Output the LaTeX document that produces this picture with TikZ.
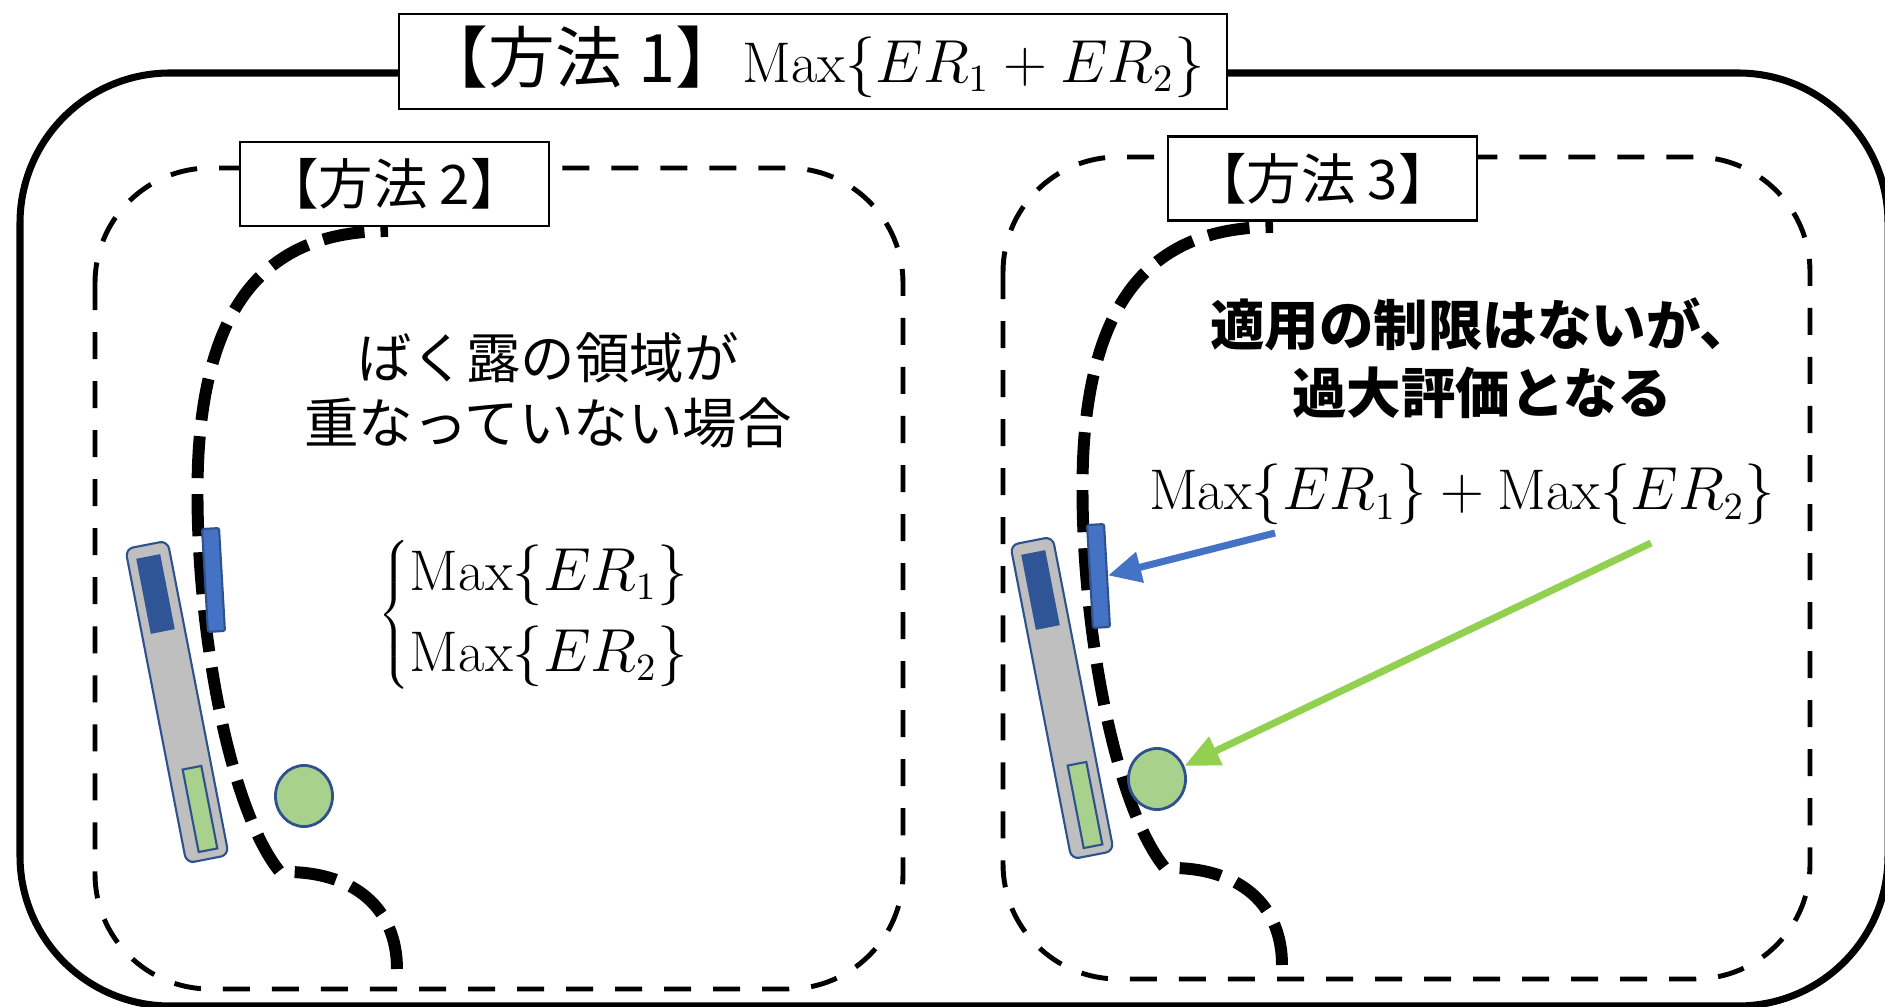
\documentclass[tikz,border=0pt]{standalone}
\usepackage{fontspec}
\usepackage{xcolor}
\usepackage{tikz}
\usetikzlibrary{shapes.geometric, arrows.meta, positioning}
\newfontfamily\jp{Noto Sans CJK JP}
\definecolor{barblue}{RGB}{68,114,196}
\definecolor{edgeblue}{RGB}{47,82,143}
\definecolor{headblue}{RGB}{47,85,151}
\definecolor{leaf}{RGB}{169,209,142}
\definecolor{arrowgreen}{RGB}{146,208,80}
\definecolor{bodygray}{RGB}{191,191,191}
\tikzset{
  frame/.style={draw=black, line width=2pt, rounded corners=1.5cm},
  zone/.style={draw=black, line width=1.4pt, dash pattern=on 0.27cm off 0.22cm, rounded corners=1.15cm},
  route/.style={draw=black, line width=3.4pt, dash pattern=on 0.42cm off 0.16cm},
  title/.style={draw=black, fill=white, line width=0.6pt, minimum width=8.27cm, minimum height=0.95cm,
                inner sep=0pt, font=\fontsize{16.3}{20}\selectfont},
  tag/.style={draw=black, fill=white, line width=0.6pt, minimum width=3.09cm, minimum height=0.84cm,
              inner sep=0pt, font=\jp\fontsize{15.5}{18}\selectfont},
  note/.style={align=center, inner sep=0pt, font=\jp\fontsize{15.5}{18.5}\selectfont},
  formula/.style={inner sep=0pt, font=\fontsize{16.3}{23}\selectfont},
  body/.style={rectangle, rounded corners=0.08cm, draw=edgeblue, line width=0.6pt, fill=bodygray,
               minimum width=0.43cm, minimum height=3.2cm, inner sep=0pt},
  head/.style={rectangle, draw=headblue, fill=headblue, minimum width=0.23cm, minimum height=0.75cm, inner sep=0pt},
  foot/.style={rectangle, draw=edgeblue, line width=0.6pt, fill=leaf, minimum width=0.19cm, minimum height=0.84cm, inner sep=0pt},
  sensor/.style={rectangle, rounded corners=0.02cm, draw=edgeblue, line width=0.6pt, fill=barblue,
                 minimum width=0.17cm, minimum height=1.03cm, inner sep=0pt},
  blob/.style={ellipse, draw=edgeblue, line width=0.8pt, fill=leaf, minimum width=0.57cm, minimum height=0.61cm, inner sep=0pt},
  bluearr/.style={-{Triangle[length=0.33cm, width=0.30cm]}, line width=2pt, draw=barblue},
  greenarr/.style={-{Triangle[length=0.35cm, width=0.30cm]}, line width=2pt, draw=arrowgreen},
}

\begin{document}
\begin{tikzpicture}[x=0.01cm, y=-0.01cm]
\useasboundingbox (0,0) rectangle (1885,1007);
\clip (0,0) rectangle (1885,1007);

% outer frame and the two zones
\draw[frame] (20,73) rectangle (1888,1006);
\draw[zone] (95,168) rectangle (903,989);
\draw[zone] (1003,157) rectangle (1810,979);

% contour, worker and sensor (same in both zones)
\foreach \n/\dx/\dy in {2/-885/4, 3/0/0} {
  \begin{scope}[shift={(\dx,\dy)}]
    \draw[route] (1282,965) .. controls (1282,905) and (1240,866) .. (1165,868)
      .. controls (1110,800) and (1078,600) .. (1083,460)
      .. controls (1090,290) and (1160,227) .. (1273,227);
    \node[body, rotate=11] (body\n) at (1062,698) {};
    \node[head, rotate=11] (head\n) at (1040.5,590) {};
    \node[foot, rotate=11] (foot\n) at (1085,805) {};
    \node[sensor, rotate=3.3] (sens\n) at (1098.5,576) {};
  \end{scope}
}
\node[blob] (blob2) at (304,796) {};
\node[blob] (blob3) at (1157,779) {};

% headings
\node[title] (ttl) at (813,61.5) {{\jp\fontsize{19}{20}\selectfont 【方法\hspace{0.25em}1】}$\mathrm{Max}\{ER_1+ER_2\}$};
\node[tag] (tag2) at (394.5,184) {【方法\hspace{0.22em}2】};
\node[tag] (tag3) at (1322.5,178.5) {【方法\hspace{0.22em}3】};

% texts
\node[note] (txt2) at (548,390) {ばく露の領域が\\重なっていない場合};
\node[note, font=\jp\bfseries\fontsize{15.5}{19.3}\selectfont] (txt3) at (1482,358) {適用の制限はないが、\\過大評価となる};
\node[formula, anchor=base west] (max2) at (378,630)
  {$\left\{\begin{array}{@{}l@{}}\mathrm{Max}\{ER_1\}\\ \mathrm{Max}\{ER_2\}\end{array}\right.$};
\node[formula, anchor=base] (sum3) at (1462,510) {$\mathrm{Max}\{ER_1\}+\mathrm{Max}\{ER_2\}$};

% arrows
\coordinate (from1) at (1275,533);
\coordinate (from2) at (1651,543);
\draw[bluearr] (from1) -- (sens3.east);
\draw[greenarr] (from2) -- (blob3);

\end{tikzpicture}
\end{document}
